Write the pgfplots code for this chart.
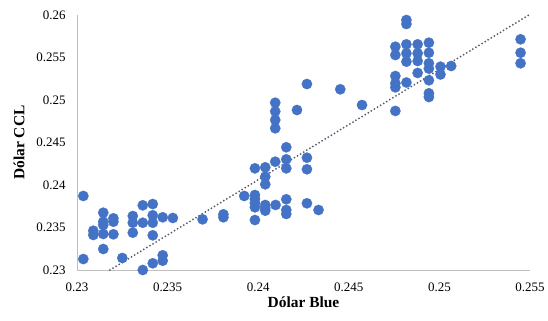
\documentclass[border=0pt]{standalone}
\usepackage{fontspec}
\setmainfont{Liberation Serif}
\usepackage{pgfplots}
\pgfplotsset{compat=1.18}
\definecolor{ptblue}{HTML}{4472C4}
\definecolor{trendgray}{HTML}{505A6A}
\definecolor{axgray}{HTML}{BFBFBF}

\begin{document}
\begin{tikzpicture}
\begin{axis}[
  scale only axis, width=453bp, height=255bp,
  xmin=0.23, xmax=0.255, ymin=0.23, ymax=0.26,
  axis x line*=bottom, axis y line*=left,
  axis line style={axgray, line width=0.9bp},
  xtick={0.23,0.235,0.24,0.245,0.25,0.255},
  ytick={0.23,0.235,0.24,0.245,0.25,0.255,0.26},
  major tick length=0pt,
  scaled ticks=false,
  tick label style={font=\fontsize{13}{13}\selectfont, /pgf/number format/assume math mode=true,
    /pgf/number format/fixed, /pgf/number format/precision=3},
  yticklabel style={xshift=-8bp},
  xticklabel style={yshift=-9bp},
  every axis x label/.style={at={(axis description cs:0.5,0)}, anchor=center, yshift=-32bp,
    font=\bfseries\fontsize{15.5}{15.5}\selectfont},
  every axis y label/.style={at={(axis description cs:-0.128,0.5)}, rotate=90, anchor=center,
    font=\bfseries\fontsize{15.5}{15.5}\selectfont},
  xlabel={Dólar Blue}, ylabel={Dólar CCL},
  clip=false,
]
% observations
\addplot[ptblue, only marks, mark=*, mark size=5.2bp, mark options={fill=ptblue, draw=ptblue, line width=0.2bp}]
coordinates {
(0.23035,0.23871) (0.23363,0.23761) (0.23418,0.23776) (0.23145,0.23674)
(0.23201,0.23608) (0.23201,0.23568) (0.23145,0.23568) (0.23145,0.23529)
(0.23308,0.23635) (0.23308,0.23556) (0.23363,0.23556) (0.23418,0.23644)
(0.23418,0.23556) (0.23473,0.23620) (0.23529,0.23612) (0.23090,0.23462)
(0.23090,0.23412) (0.23145,0.23424) (0.23201,0.23420) (0.23308,0.23439)
(0.23418,0.23408) (0.23145,0.23247) (0.23035,0.23129) (0.23250,0.23141)
(0.23363,0.23000) (0.23418,0.23079) (0.23473,0.23173) (0.23473,0.23109)
(0.23693,0.23596) (0.23808,0.23655) (0.23808,0.23620) (0.23923,0.23871)
(0.23982,0.23882) (0.23982,0.23835) (0.23982,0.23788) (0.23982,0.23738)
(0.23982,0.23588) (0.23982,0.24196) (0.24039,0.24208) (0.24039,0.24098)
(0.24039,0.24008) (0.24039,0.23765) (0.24039,0.23729) (0.24039,0.23698)
(0.24094,0.24274) (0.24096,0.23765) (0.24094,0.24968) (0.24094,0.24865)
(0.24094,0.24765) (0.24094,0.24667) (0.24155,0.24444) (0.24155,0.24302)
(0.24155,0.24196) (0.24155,0.23832) (0.24155,0.23706) (0.24155,0.23659)
(0.24214,0.24882) (0.24269,0.25188) (0.24269,0.24321) (0.24269,0.24185)
(0.24269,0.23785) (0.24333,0.23706) (0.24453,0.25126) (0.24573,0.24941)
(0.24757,0.25627) (0.24757,0.25529) (0.24757,0.25282) (0.24757,0.25196)
(0.24757,0.25149) (0.24757,0.24871) (0.24818,0.25941) (0.24818,0.25894)
(0.24818,0.25655) (0.24818,0.25549) (0.24818,0.25451) (0.24818,0.25206)
(0.24880,0.25655) (0.24880,0.25549) (0.24880,0.25459) (0.24880,0.25318)
(0.24942,0.25674) (0.24942,0.25556) (0.24942,0.25432) (0.24942,0.25369)
(0.24942,0.25232) (0.24942,0.25079) (0.24942,0.25035) (0.25006,0.25392)
(0.25006,0.25300) (0.25065,0.25400) (0.25448,0.25714) (0.25448,0.25556)
(0.25448,0.25432)
};
% linear trend
\addplot[trendgray, line width=2bp, line cap=round, dash pattern=on 0pt off 3.6bp]
coordinates {(0.23182,0.23) (0.25500,0.26008)};
\end{axis}
\path (current axis.south west) ++(-77bp,-51bp) rectangle ++(548bp,321bp);
\end{tikzpicture}
\end{document}
